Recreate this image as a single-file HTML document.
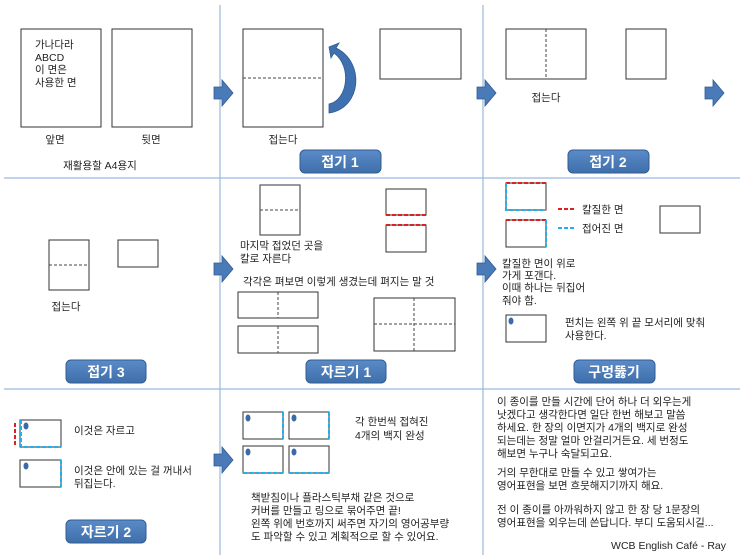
<!DOCTYPE html>
<html><head><meta charset="utf-8"><style>
html,body{margin:0;padding:0;background:#fff;}
svg{display:block;}
text{font-family:"Liberation Sans","Noto Sans CJK KR",sans-serif;font-size:10.5px;fill:#222;}
.lb{font-size:14px;font-weight:bold;fill:#fff;text-anchor:middle;}
.c{text-anchor:middle;}
</style></head><body>
<svg width="740" height="555" viewBox="0 0 740 555" xmlns="http://www.w3.org/2000/svg">
<defs>
<linearGradient id="g" x1="0" y1="0" x2="0" y2="1"><stop offset="0" stop-color="#5b8bc8"/><stop offset="1" stop-color="#3f6faa"/></linearGradient>
<g id="arr"><path d="M0,7 H8 V0 L19,13 L8,26 V19 H0 Z" fill="#4a7ab8" stroke="#2f5c94" stroke-width="0.8"/></g>
</defs>
<g stroke="#9bb9dd" stroke-width="1.2">
<line x1="220" y1="5" x2="220" y2="555"/><line x1="483" y1="5" x2="483" y2="555"/>
<line x1="4" y1="178" x2="740" y2="178"/><line x1="4" y1="389" x2="740" y2="389"/>
</g>
<g fill="none" stroke="#333" stroke-width="1">
<rect x="21" y="29" width="80" height="98"/><rect x="112" y="29" width="80" height="98"/>
<rect x="243" y="29" width="80" height="98"/><rect x="380" y="29" width="81" height="50"/>
<rect x="506" y="29" width="80" height="50"/><rect x="626" y="29" width="40" height="50"/>
<rect x="49" y="240" width="40" height="50"/><rect x="118" y="240" width="40" height="27"/>
<rect x="260" y="185" width="40" height="50"/>
<rect x="386" y="189" width="40" height="26"/><rect x="386" y="225" width="40" height="27"/>
<rect x="238" y="292" width="80" height="26"/><rect x="238" y="326" width="80" height="27"/>
<rect x="374" y="298" width="81" height="53"/>
<rect x="506" y="183" width="40" height="27"/><rect x="506" y="220" width="40" height="27"/>
<rect x="660" y="206" width="40" height="27"/><rect x="506" y="315" width="40" height="27"/>
<rect x="20" y="420" width="41" height="27"/><rect x="20" y="460" width="41" height="27"/>
<rect x="243" y="412" width="40" height="27"/><rect x="289" y="412" width="40" height="27"/>
<rect x="243" y="446" width="40" height="27"/><rect x="289" y="446" width="40" height="27"/>
</g>
<g fill="none" stroke="#444" stroke-width="1" stroke-dasharray="3,2">
<line x1="243" y1="78" x2="323" y2="78"/><line x1="546" y1="29" x2="546" y2="79"/>
<line x1="49" y1="265" x2="89" y2="265"/><line x1="260" y1="210" x2="300" y2="210"/>
<line x1="278" y1="292" x2="278" y2="318"/><line x1="278" y1="326" x2="278" y2="353"/>
<line x1="414" y1="298" x2="414" y2="351"/><line x1="374" y1="324" x2="455" y2="324"/>
</g>
<g fill="none" stroke-width="2" stroke-dasharray="4,2">
<line x1="386" y1="215" x2="426" y2="215" stroke="#e02020"/><line x1="386" y1="225" x2="426" y2="225" stroke="#e02020"/>
<line x1="506" y1="183" x2="546" y2="183" stroke="#e02020"/><line x1="506" y1="220" x2="546" y2="220" stroke="#e02020"/>
<path d="M506,183 V210 H546" stroke="#21b0ea"/><line x1="546" y1="220" x2="546" y2="247" stroke="#21b0ea"/>
<line x1="558" y1="209" x2="574" y2="209" stroke="#e02020"/><line x1="558" y1="228" x2="574" y2="228" stroke="#21b0ea"/>
<line x1="15" y1="423" x2="15" y2="447" stroke="#e02020"/>
<path d="M21,420 V447 H61" stroke="#21b0ea"/><line x1="61" y1="460" x2="61" y2="487" stroke="#21b0ea"/>
<line x1="283" y1="412" x2="283" y2="439" stroke="#21b0ea"/><line x1="329" y1="412" x2="329" y2="439" stroke="#21b0ea"/>
<line x1="243" y1="473" x2="283" y2="473" stroke="#21b0ea"/><line x1="289" y1="473" x2="329" y2="473" stroke="#21b0ea"/>
</g>
<g fill="#3a6aa8">
<ellipse cx="511" cy="321" rx="2.5" ry="3.5"/><ellipse cx="26" cy="426" rx="2.5" ry="3.5"/><ellipse cx="26" cy="466" rx="2.5" ry="3.5"/>
<ellipse cx="248" cy="418" rx="2.5" ry="3.5"/><ellipse cx="294" cy="418" rx="2.5" ry="3.5"/>
<ellipse cx="248" cy="452" rx="2.5" ry="3.5"/><ellipse cx="294" cy="452" rx="2.5" ry="3.5"/>
</g>
<path d="M329,113 C362,108 365,62 336,48 L339,43 L329,47 L331,58 L334,53 C352,66 348,100 329,104 Z" fill="#3f70b0" stroke="#2f5c94" stroke-width="0.8"/>
<use href="#arr" x="214" y="80"/><use href="#arr" x="477" y="80"/><use href="#arr" x="705" y="80"/>
<use href="#arr" x="214" y="256"/><use href="#arr" x="477" y="256"/><use href="#arr" x="214" y="447"/>
<g stroke="#2f5c94" stroke-width="1" fill="url(#g)">
<rect x="300" y="150" width="81" height="23" rx="5"/><rect x="568" y="150" width="81" height="23" rx="5"/>
<rect x="66" y="360" width="80" height="23" rx="5"/><rect x="306" y="360" width="80" height="23" rx="5"/>
<rect x="574" y="360" width="81" height="23" rx="5"/><rect x="66" y="520" width="80" height="23" rx="5"/>
</g>
<text class="lb" x="340" y="167">접기 1</text><text class="lb" x="608" y="167">접기 2</text>
<text class="lb" x="106" y="377">접기 3</text><text class="lb" x="346" y="377">자르기 1</text>
<text class="lb" x="614" y="377">구멍뚫기</text><text class="lb" x="106" y="537">자르기 2</text>
<text x="35" y="48">가나다라</text><text x="35" y="61">ABCD</text><text x="35" y="73">이 면은</text><text x="35" y="86">사용한 면</text>
<text class="c" x="55" y="143">앞면</text><text class="c" x="151" y="143">뒷면</text>
<text class="c" x="100" y="169">재활용할 A4용지</text>
<text class="c" x="283" y="143">접는다</text><text class="c" x="546" y="101">접는다</text>
<text class="c" x="66" y="310">접는다</text>
<text x="240" y="249">마지막 접었던 곳을</text><text x="240" y="262">칼로 자른다</text>
<text x="243" y="285">각각은 펴보면 이렇게 생겼는데 펴지는 말 것</text>
<text x="582" y="213">칼질한 면</text><text x="582" y="232">접어진 면</text>
<text x="502" y="267">칼질한 면이 위로</text><text x="502" y="279">가게 포갠다.</text>
<text x="502" y="291">이때 하나는 뒤집어</text><text x="502" y="304">줘야 함.</text>
<text x="565" y="326">펀치는 왼쪽 위 끝 모서리에 맞춰</text><text x="565" y="339">사용한다.</text>
<text x="74" y="434">이것은 자르고</text>
<text x="74" y="474">이것은 안에 있는 걸 꺼내서</text><text x="74" y="487">뒤집는다.</text>
<text x="355" y="425">각 한번씩 접혀진</text><text x="355" y="439">4개의 백지 완성</text>
<text x="251" y="501">책받침이나 플라스틱부채 같은 것으로</text>
<text x="251" y="514">커버를 만들고 링으로 묶어주면 끝!</text>
<text x="251" y="527">왼쪽 위에 번호까지 써주면 자기의 영어공부량</text>
<text x="251" y="540">도 파악할 수 있고 계획적으로 할 수 있어요.</text>
<text x="497" y="405">이 종이를 만들 시간에 단어 하나 더 외우는게</text>
<text x="497" y="418">낫겠다고 생각한다면 일단 한번 해보고 말씀</text>
<text x="497" y="431">하세요. 한 장의 이면지가 4개의 백지로 완성</text>
<text x="497" y="444">되는데는 정말 얼마 안걸리거든요. 세 번정도</text>
<text x="497" y="457">해보면 누구나 숙달되고요.</text>
<text x="497" y="476">거의 무한대로 만들 수 있고 쌓여가는</text>
<text x="497" y="489">영어표현을 보면 흐뭇해지기까지 해요.</text>
<text x="497" y="513">전 이 종이를 아까워하지 않고 한 장 당 1문장의</text>
<text x="497" y="526">영어표현을 외우는데 쓴답니다. 부디 도움되시길...</text>
<text x="726" y="549" text-anchor="end">WCB English Café - Ray</text>
</svg>
</body></html>
